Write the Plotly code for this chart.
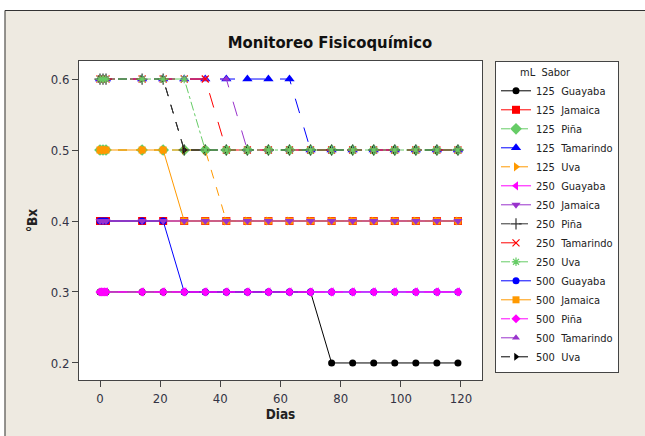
import plotly.graph_objects as go

dias = [0, 1, 2, 14, 21, 28, 35, 42, 49, 56, 63, 70, 77, 84, 91, 98, 105, 112, 119]

ml = ["125", "125", "125", "125", "125",
      "250", "250", "250", "250", "250",
      "500", "500", "500", "500", "500"]
sabor = ["Guayaba", "Jamaica", "Piña", "Tamarindo", "Uva"] * 3

bx_125_guayaba = [0.3] * 12 + [0.2] * 7
bx_125_jamaica = [0.4] * 19
bx_125_pina = [0.5] * 19
bx_125_tamarindo = [0.6] * 11 + [0.5] * 8
bx_125_uva = [0.5] * 7 + [0.4] * 12
bx_250_guayaba = [0.3] * 19
bx_250_jamaica = [0.4] * 19
bx_250_pina = [0.6] * 5 + [0.5] * 14
bx_250_tamarindo = [0.6] * 7 + [0.5] * 12
bx_250_uva = [0.6] * 6 + [0.5] * 13
bx_500_guayaba = [0.4] * 5 + [0.3] * 14
bx_500_jamaica = [0.5] * 5 + [0.4] * 14
bx_500_pina = [0.3] * 19
bx_500_tamarindo = [0.6] * 8 + [0.5] * 11
bx_500_uva = [0.6] * 5 + [0.5] * 14

series = [bx_125_guayaba, bx_125_jamaica, bx_125_pina, bx_125_tamarindo, bx_125_uva,
          bx_250_guayaba, bx_250_jamaica, bx_250_pina, bx_250_tamarindo, bx_250_uva,
          bx_500_guayaba, bx_500_jamaica, bx_500_pina, bx_500_tamarindo, bx_500_uva]

colors = ["#000000", "#FF0000", "#66CC66", "#0000FF", "#FF9900",
          "#FF00FF", "#9933CC", "#333333", "#FF0000", "#66CC66",
          "#0000FF", "#FF9900", "#FF00FF", "#9933CC", "#000000"]
symbols = ["circle", "square", "diamond", "triangle-up", "triangle-right",
           "triangle-left", "triangle-down", "cross-thin", "x-thin", "asterisk",
           "circle", "square", "diamond", "triangle-up", "triangle-right"]
dashes = ["solid", "solid", "dash", "longdash", "dash",
          "solid", "solid", "dash", "longdash", "dashdot",
          "solid", "solid", "dash", "longdash", "dash"]
sizes = [7, 8, 9, 9, 8, 8, 8, 8, 7, 7, 7, 7, 7, 7, 7]

# drawing order (bottom to top); legend order kept with legendrank
draw_order = [0, 1, 2, 3, 4, 10, 11, 12, 13, 14, 5, 6, 7, 8, 9]

FONT = "DejaVu Sans Condensed, Liberation Sans, sans-serif"

fig = go.Figure()
for i in draw_order:
    ys = series[i]
    thin = symbols[i] in ("cross-thin", "x-thin", "asterisk")
    fig.add_trace(go.Scatter(
        x=dias, y=ys, mode="lines+markers",
        name=f"{ml[i]}  {sabor[i]}",
        legendrank=i + 1,
        line=dict(color=colors[i], width=1, dash=dashes[i]),
        marker=dict(symbol=symbols[i], size=sizes[i], color=colors[i],
                    line=dict(color=colors[i], width=1.2 if thin else 0)),
    ))

# plot-area geometry in pixels
L, R, T, B = 79, 482, 61, 380
W, H = 645, 436
pw, ph = R - L, B - T


def px(x):
    return (x - L) / pw


def py(y):
    return (B - y) / ph


shapes = [
    dict(type="rect", xref="paper", yref="paper", x0=px(0), x1=px(W), y0=py(10), y1=py(0),
         fillcolor="white", line=dict(width=0), layer="below"),
    dict(type="rect", xref="paper", yref="paper", x0=px(0), x1=px(4.5), y0=py(H), y1=py(0),
         fillcolor="white", line=dict(width=0), layer="below"),
    dict(type="line", xref="paper", yref="paper", x0=px(5), x1=px(W), y0=py(10.5), y1=py(10.5),
         line=dict(color="#333333", width=1)),
    dict(type="line", xref="paper", yref="paper", x0=px(5), x1=px(5), y0=py(10.5), y1=py(H),
         line=dict(color="#333333", width=1)),
]

fig.update_layout(
    width=W, height=H,
    margin=dict(l=L, r=W - R, t=T, b=H - B),
    paper_bgcolor="#EEEAE1",
    plot_bgcolor="white",
    font=dict(family=FONT, size=11, color="#222222"),
    title=dict(text="<b>Monitoreo Fisicoquímico</b>", x=330 / W, xanchor="center",
               y=1 - 42 / H, yanchor="middle",
               font=dict(family=FONT, size=16.5, color="#111111")),
    xaxis=dict(range=[-6.98, 127.0], tickvals=[0, 20, 40, 60, 80, 100, 120],
               showgrid=False, zeroline=False, showline=True, linecolor="#444444",
               linewidth=1, mirror=True, ticks="outside", ticklen=6, tickcolor="#444444",
               title=dict(text="<b>Dias</b>", font=dict(family=FONT, size=13.5), standoff=4),
               tickfont=dict(size=13, color="#333344")),
    yaxis=dict(range=[0.176, 0.6254], tickvals=[0.2, 0.3, 0.4, 0.5, 0.6],
               tickformat=".1f",
               showgrid=False, zeroline=False, showline=True, linecolor="#444444",
               linewidth=1, mirror=True, ticks="outside", ticklen=6, tickcolor="#444444",
               title=dict(text="<b>°Bx</b>", font=dict(family=FONT, size=13.5), standoff=10),
               tickfont=dict(size=13, color="#333344")),
    legend=dict(x=px(495), y=1, xanchor="left", yanchor="top",
                bgcolor="white", bordercolor="#444444", borderwidth=1,
                font=dict(family=FONT, size=11, color="#222222"),
                title=dict(text="       mL  Sabor", font=dict(family=FONT, size=11)),
                itemwidth=30, tracegroupgap=0, traceorder="normal"),
    shapes=shapes,
    showlegend=True,
)

fig.write_html("out.html", config={"displayModeBar": False},
               post_script="document.body.style.margin='0';")
